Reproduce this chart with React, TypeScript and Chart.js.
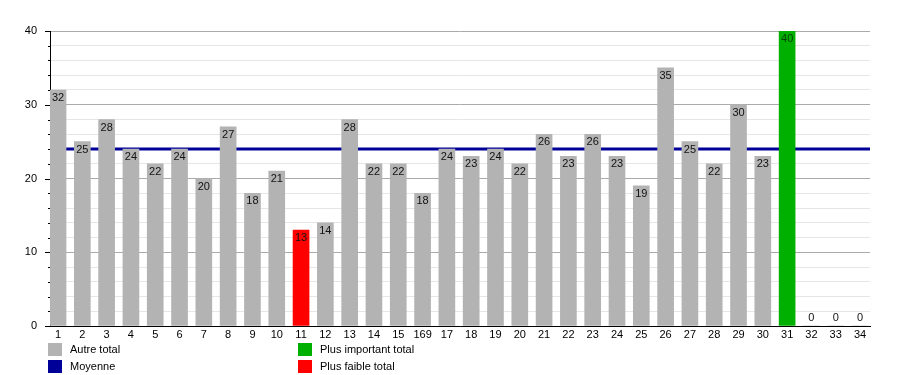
import React, { useEffect, useRef } from "react";
import { Chart, registerables } from "chart.js";

Chart.register(...registerables);

const categories = ["1","2","3","4","5","6","7","8","9","10","11","12","13","14","15","169","17","18","19","20","21","22","23","24","25","26","27","28","29","30","31","32","33","34"];
const totals = [32,25,28,24,22,24,20,27,18,21,13,14,28,22,22,18,24,23,24,22,26,23,26,23,19,35,25,22,30,23,40,0,0,0];
const average = 24;
const yTicks = [0, 10, 20, 30, 40];

const GRAY = "#b3b3b3";
const RED = "#ff0000";
const GREEN = "#00b000";
const NAVY = "#000099";
const FONT = "'Liberation Sans', Arial, sans-serif";

const legendItems = [
  { label: "Autre total", color: GRAY, x: 48, y: 342 },
  { label: "Moyenne", color: NAVY, x: 48, y: 359 },
  { label: "Plus important total", color: GREEN, x: 298, y: 342 },
  { label: "Plus faible total", color: RED, x: 298, y: 359 },
];

export default function App() {
  const ref = useRef<HTMLCanvasElement>(null);
  useEffect(() => {
    document.body.style.margin = "0";
    const maxV = Math.max(...totals);
    const nonZero = totals.filter((v) => v > 0);
    const minV = Math.min(...nonZero);
    const colors = totals.map((v) => (v === maxV ? GREEN : v === minV ? RED : GRAY));
    const xMin = 0.67;
    const xMax = 34.41;

    const labelPlugin = {
      id: "barLabels",
      afterDatasetsDraw(chart: any) {
        const ctx = chart.ctx;
        const meta = chart.getDatasetMeta(0);
        ctx.save();
        ctx.font = `11px ${FONT}`;
        ctx.textAlign = "center";
        ctx.textBaseline = "middle";
        meta.data.forEach((el: any, i: number) => {
          const v = totals[i];
          ctx.fillStyle = v === maxV ? "#004400" : "#111";
          const y = v === 0 ? el.y - 8 : el.y + 8;
          ctx.fillText(String(v), el.x, y);
        });
        ctx.restore();
      },
      afterDraw(chart: any) {
        const ctx = chart.ctx;
        const ys = chart.scales.y;
        const left = chart.chartArea.left;
        ctx.save();
        ctx.strokeStyle = "#000";
        ctx.lineWidth = 1;
        for (let v = 0; v <= 40; v += 2) {
          const py = Math.round(ys.getPixelForValue(v)) + 0.5;
          const len = v % 10 === 0 ? 5 : 2;
          ctx.beginPath();
          ctx.moveTo(left - len, py);
          ctx.lineTo(left, py);
          ctx.stroke();
        }
        ctx.restore();
      },
    };

    const chart = new Chart(ref.current!, {
      type: "bar",
      data: {
        datasets: [
          {
            type: "bar",
            data: totals.map((v, i) => ({ x: i + 1, y: v })),
            backgroundColor: colors,
            barThickness: 16,
            order: 1,
          } as any,
          {
            type: "line",
            data: [
              { x: xMin, y: average },
              { x: xMax, y: average },
            ],
            borderColor: NAVY,
            borderWidth: 3,
            pointRadius: 0,
            order: 2,
          } as any,
        ],
      },
      plugins: [labelPlugin],
      options: {
        animation: false,
        responsive: false,
        layout: { padding: { top: 31, right: 30, bottom: 29, left: 0 } },
        plugins: { legend: { display: false }, tooltip: { enabled: false } },
        scales: {
          x: {
            type: "linear",
            min: xMin,
            max: xMax,
            offset: false,
            afterBuildTicks: (scale: any) => {
              scale.ticks = categories.map((_, i) => ({ value: i + 1 }));
            },
            afterFit: (scale: any) => {
              scale.height = 20;
            },
            ticks: {
              autoSkip: false,
              maxRotation: 0,
              padding: 2,
              color: "#000",
              font: { family: FONT, size: 11 },
              callback: (v: any) => categories[Math.round(v) - 1] ?? "",
            },
            grid: { display: false, drawTicks: false, offset: false },
            border: { color: "#000", width: 1 },
          },
          y: {
            min: 0,
            max: 40,
            afterBuildTicks: (scale: any) => {
              const t = [];
              for (let v = 0; v <= 40; v += 2) t.push({ value: v });
              scale.ticks = t;
            },
            afterFit: (scale: any) => {
              scale.width = 50;
            },
            ticks: {
              autoSkip: false,
              padding: 13,
              color: "#000",
              font: { family: FONT, size: 11 },
              callback: (v: any) => (yTicks.includes(v) ? String(v) : ""),
            },
            grid: {
              color: (c: any) => (c.tick && c.tick.value % 10 === 0 ? "#aaaaaa" : "#e6e6e6"),
              drawTicks: false,
              lineWidth: 1,
            },
            border: { color: "#000", width: 1 },
          },
        },
      },
    });
    return () => chart.destroy();
  }, []);

  return (
    <div style={{ position: "relative", width: 900, height: 375, background: "#fff", fontFamily: FONT }}>
      <canvas ref={ref} width={900} height={375} style={{ position: "absolute", left: 0, top: 0 }} />
      {legendItems.map((it) => (
        <div key={it.label} style={{ position: "absolute", left: it.x, top: it.y, height: 14, display: "flex", alignItems: "center" }}>
          <span style={{ display: "inline-block", width: 14, height: 13, background: it.color }} />
          <span style={{ marginLeft: 8, fontSize: 11, color: "#000", whiteSpace: "nowrap" }}>{it.label}</span>
        </div>
      ))}
    </div>
  );
}
